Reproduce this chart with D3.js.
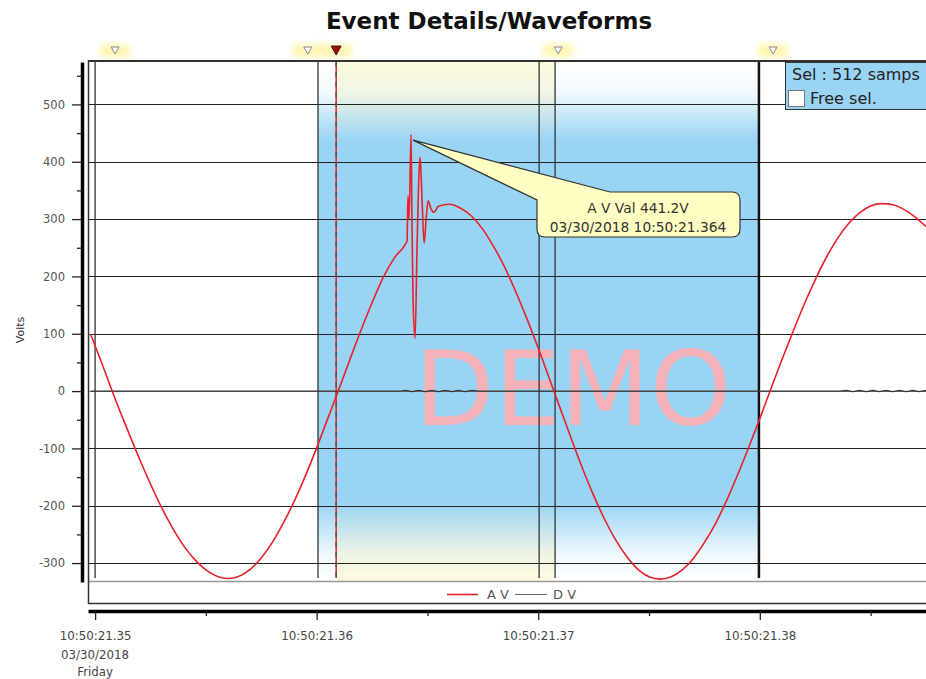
<!DOCTYPE html>
<html>
<head>
<meta charset="utf-8">
<script src="https://cdn.jsdelivr.net/npm/d3@7"></script>
<style>
  body { margin: 0; background: #fff; }
  svg { display: block; font-family: "DejaVu Sans", sans-serif; }
</style>
</head>
<body>
<div id="chart"></div>
<script>
// times are ms after 10:50:21.350
const avTimes = [-0.2, 0.3, 0.8, 1.0, 1.5, 2.0, 2.5, 3.0, 3.5, 4.0, 4.5, 5.0, 5.5, 6.0, 6.5, 7.0, 7.5, 8.0, 8.5, 9.0, 9.5, 10.0, 10.5, 11.0, 11.5, 12.0, 12.5, 13.0, 13.5, 14.0,
  14.08, 14.12, 14.17, 14.26, 14.30, 14.35, 14.44, 14.53, 14.62, 14.67, 14.76, 14.85, 14.94, 15.03, 15.16, 15.30, 15.48, 15.75,
  16.0, 16.5, 17.0, 17.5, 18.0, 18.5, 19.0, 19.5, 20.0, 20.5, 21.0, 21.5, 22.0, 22.5, 23.0, 23.5, 24.0, 24.5, 25.0, 25.5,
  26.0, 26.5, 27.0, 27.5, 28.0, 28.5, 29.0, 29.5, 30.0, 30.5, 31.0, 31.5, 32.0, 32.5, 33.0, 33.5, 34.0, 34.5, 35.0, 35.5,
  36.0, 36.5, 37.0, 37.5];
const avVolts = [99, 49, -3, -23, -71, -118, -162, -203, -239, -270, -294, -312, -323, -327, -323, -311, -291, -264, -230, -191, -147, -99, -48, 3, 55, 106, 154, 198, 232, 256,
  262, 340, 300, 448, 300, 160, 92, 250, 380, 408, 330, 258, 300, 332, 318, 312, 322, 325,
  326, 319, 305, 282, 251, 215, 172, 125, 75, 22, -31, -84, -135, -182, -224, -260, -289, -311, -324, -328,
  -324, -312, -292, -264, -231, -191, -146, -98, -48, 4, 55, 104, 151, 194, 233, 266, 292, 311, 323, 327,
  325, 317, 304, 287];

const dvTimes = [-0.2, 13.8, 14.0, 14.3, 14.6, 14.9, 15.2, 15.5, 15.8, 16.1, 16.4, 16.7, 17.0, 17.3, 33.6, 33.9, 34.2, 34.5, 34.8, 35.1, 35.4, 35.7, 36.0, 36.3, 36.6, 36.9, 37.2, 37.5];
const dvVolts = [0, 0, 1, -1, 1, -1, 1, -1, 1, -1, 1, -1, 1, 0, 0, 1, -1, 1, -1, 1, -1, 1, -1, 1, -1, 1, -1, 1];

const yMajorTicks = [-300, -200, -100, 0, 100, 200, 300, 400, 500];
const yMinorTicks = [-250, -150, -50, 50, 150, 250, 350, 450, 550];
const xMajorTicks = [0, 10, 20, 30];
const xMinorTicks = [5, 15, 25, 35];
const xTickLabels = ['10:50:21.35', '10:50:21.36', '10:50:21.37', '10:50:21.38'];
const xFirstLabelExtra = ['03/30/2018', 'Friday'];

const cursorLines = [0, 10.06, 20.04, 20.76];
const eventCursor = 10.88;
const selectionEnd = 29.96;
const markerTimes = [0.9, 9.6, 20.9, 30.6];
const tooltipLines = ['A V Val 441.2V', '03/30/2018 10:50:21.364'];
const peakPoint = [14.26, 441.2];

const width = 926, height = 679;
const plotTop = 62, plotBottom = 581, plotLeft = 88, plotRight = 926;

const svg = d3.select('#chart').append('svg')
  .attr('width', width)
  .attr('height', height);

const x = d3.scaleLinear().domain([-0.32, 37.5]).range([plotLeft, plotRight]);
const y = d3.scaleLinear().domain([-333, 574]).range([582, plotTop]);

const defs = svg.append('defs');
const grad = defs.append('linearGradient')
  .attr('id', 'blueFade')
  .attr('x1', 0).attr('y1', 0).attr('x2', 0).attr('y2', 1);
[[0, 0], [0.06, 0.15], [0.15, 1], [0.85, 1], [0.95, 0.15], [1, 0]].forEach(s => {
  grad.append('stop').attr('offset', s[0]).attr('stop-color', '#9ad4f5').attr('stop-opacity', s[1]);
});
defs.append('filter').attr('id', 'glow')
  .attr('x', '-50%').attr('y', '-50%').attr('width', '200%').attr('height', '200%')
  .append('feGaussianBlur').attr('stdDeviation', 3);
defs.append('clipPath').attr('id', 'plotClip')
  .append('rect')
  .attr('x', plotLeft).attr('y', plotTop)
  .attr('width', plotRight - plotLeft).attr('height', plotBottom - plotTop);

// title
svg.append('text')
  .attr('x', 489).attr('y', 29)
  .attr('text-anchor', 'middle')
  .style('font-size', '23px')
  .style('font-weight', 'bold')
  .attr('fill', '#111')
  .text('Event Details/Waveforms');

// marker glows and triangles above the plot
const markerG = svg.append('g');
markerTimes.concat([eventCursor]).forEach(t => {
  markerG.append('rect')
    .attr('x', x(t) - 15).attr('y', 44)
    .attr('width', 30).attr('height', 13)
    .attr('fill', '#fff6b0')
    .attr('filter', 'url(#glow)');
});
markerTimes.forEach(t => {
  const cx = x(t);
  markerG.append('path')
    .attr('d', `M${cx - 4},47 L${cx + 4},47 L${cx},54 Z`)
    .attr('fill', '#fff')
    .attr('stroke', '#888')
    .attr('stroke-width', 1);
});
{
  const cx = x(eventCursor);
  markerG.append('path')
    .attr('d', `M${cx - 5},46 L${cx + 5},46 L${cx},55 Z`)
    .attr('fill', '#b00000')
    .attr('stroke', '#222')
    .attr('stroke-width', 1);
}

// selection / event shading
const plotG = svg.append('g').attr('clip-path', 'url(#plotClip)');
plotG.append('rect')
  .attr('x', x(eventCursor)).attr('y', plotTop)
  .attr('width', x(20.76) - x(eventCursor)).attr('height', plotBottom - plotTop)
  .attr('fill', '#fffbe0');
plotG.append('rect')
  .attr('x', x(10.06)).attr('y', plotTop)
  .attr('width', x(selectionEnd) - x(10.06)).attr('height', plotBottom - plotTop)
  .attr('fill', 'url(#blueFade)');

// DEMO watermark
plotG.append('text')
  .attr('x', 573).attr('y', 425)
  .attr('text-anchor', 'middle')
  .style('font-size', '104px')
  .attr('fill', '#ffaeb2')
  .attr('fill-opacity', 0.9)
  .text('DEMO');

// horizontal grid
plotG.selectAll('.hgrid')
  .data(yMajorTicks)
  .join('line')
  .attr('x1', plotLeft).attr('x2', plotRight)
  .attr('y1', d => Math.round(y(d)) + 0.5).attr('y2', d => Math.round(y(d)) + 0.5)
  .attr('stroke', d => d === 0 ? '#8a8a8a' : '#222')
  .attr('stroke-width', 1.2);

// cursor lines
plotG.selectAll('.cursor')
  .data(cursorLines)
  .join('line')
  .attr('x1', d => x(d)).attr('x2', d => x(d))
  .attr('y1', plotTop).attr('y2', 578)
  .attr('stroke', '#333')
  .attr('stroke-width', 1.3);
plotG.append('line')
  .attr('x1', x(selectionEnd)).attr('x2', x(selectionEnd))
  .attr('y1', plotTop).attr('y2', 578)
  .attr('stroke', '#111')
  .attr('stroke-width', 2.5);
plotG.append('line')
  .attr('x1', x(eventCursor)).attr('x2', x(eventCursor))
  .attr('y1', plotTop).attr('y2', 578)
  .attr('stroke', '#f02020')
  .attr('stroke-width', 1.5);
plotG.append('line')
  .attr('x1', x(eventCursor)).attr('x2', x(eventCursor))
  .attr('y1', plotTop).attr('y2', 578)
  .attr('stroke', '#555')
  .attr('stroke-width', 1.5)
  .attr('stroke-dasharray', '5,5');

// series
const dvLine = d3.line()
  .x((d, i) => x(dvTimes[i]))
  .y(d => y(d));
plotG.append('path')
  .datum(dvVolts)
  .attr('d', dvLine)
  .attr('fill', 'none')
  .attr('stroke', '#333')
  .attr('stroke-width', 1.4);

const avLine = d3.line()
  .x((d, i) => x(avTimes[i]))
  .y(d => y(d))
  .curve(d3.curveMonotoneX);
plotG.append('path')
  .datum(avVolts)
  .attr('d', avLine)
  .attr('fill', 'none')
  .attr('stroke', '#e8202a')
  .attr('stroke-width', 1.6);

// plot frame
svg.append('line')
  .attr('x1', plotLeft).attr('x2', plotRight).attr('y1', 61).attr('y2', 61)
  .attr('stroke', '#333').attr('stroke-width', 2);
svg.append('line')
  .attr('x1', plotLeft).attr('x2', plotRight).attr('y1', 581.5).attr('y2', 581.5)
  .attr('stroke', '#999').attr('stroke-width', 1.5);
svg.append('line')
  .attr('x1', plotLeft).attr('x2', plotRight).attr('y1', 603.5).attr('y2', 603.5)
  .attr('stroke', '#333').attr('stroke-width', 1.5);
svg.append('line')
  .attr('x1', plotLeft + 0.5).attr('x2', plotLeft + 0.5).attr('y1', 60).attr('y2', 604)
  .attr('stroke', '#333').attr('stroke-width', 1.5);

// legend
const legend = svg.append('g').style('font-size', '13px').attr('fill', '#555');
legend.append('line').attr('x1', 447).attr('x2', 478).attr('y1', 594.5).attr('y2', 594.5)
  .attr('stroke', '#e8202a').attr('stroke-width', 1.6);
legend.append('text').attr('x', 487).attr('y', 599).text('A V');
legend.append('line').attr('x1', 515).attr('x2', 547).attr('y1', 594.5).attr('y2', 594.5)
  .attr('stroke', '#666').attr('stroke-width', 1);
legend.append('text').attr('x', 553).attr('y', 599).text('D V');

// y axis
const yAxisG = svg.append('g')
  .attr('transform', 'translate(82,0)')
  .call(d3.axisLeft(y).tickValues(yMajorTicks).tickSize(10).tickSizeOuter(0).tickPadding(7)
    .tickFormat(d => String(d)));
yAxisG.select('.domain').attr('stroke', '#000').attr('stroke-width', 3.5);
yAxisG.selectAll('.tick line').attr('stroke', '#222').attr('stroke-width', 1.3);
yAxisG.selectAll('.tick text')
  .style('font-size', '11.5px')
  .style('font-family', '"DejaVu Sans", sans-serif')
  .attr('fill', '#555');
svg.append('g')
  .attr('transform', 'translate(82,0)')
  .call(d3.axisLeft(y).tickValues(yMinorTicks).tickSize(5).tickFormat(''))
  .call(g => g.select('.domain').remove())
  .selectAll('.tick line').attr('stroke', '#222').attr('stroke-width', 1.3);

svg.append('text')
  .attr('transform', 'translate(24,330) rotate(-90)')
  .attr('text-anchor', 'middle')
  .style('font-size', '11px')
  .attr('fill', '#333')
  .text('Volts');

// x axis
const xAxisG = svg.append('g')
  .attr('transform', 'translate(0,611)')
  .call(d3.axisBottom(x).tickValues(xMajorTicks).tickSize(9).tickSizeOuter(0).tickPadding(12)
    .tickFormat((d, i) => xTickLabels[i]));
xAxisG.select('.domain').attr('stroke', '#000').attr('stroke-width', 3.5);
xAxisG.selectAll('.tick line').attr('stroke', '#222').attr('stroke-width', 1.3);
xAxisG.selectAll('.tick text')
  .style('font-size', '11.8px')
  .style('font-family', '"DejaVu Sans", sans-serif')
  .attr('fill', '#444');
svg.append('g')
  .attr('transform', 'translate(0,611)')
  .call(d3.axisBottom(x).tickValues(xMinorTicks).tickSize(5).tickFormat(''))
  .call(g => g.select('.domain').remove())
  .selectAll('.tick line').attr('stroke', '#222').attr('stroke-width', 1.3);

xFirstLabelExtra.forEach((t, i) => {
  svg.append('text')
    .attr('x', x(0)).attr('y', 659 + i * 17)
    .attr('text-anchor', 'middle')
    .style('font-size', '11.8px')
    .attr('fill', '#444')
    .text(t);
});

// tooltip callout
const tip = svg.append('g');
const tipX = x(peakPoint[0]) + 2, tipY = y(peakPoint[1]) + 2;
const bx0 = 537, bx1 = 740, by0 = 192, by1 = 237, r = 8;
tip.append('path')
  .attr('d', `M${tipX},${tipY} L610,${by0} H${bx1 - r} Q${bx1},${by0} ${bx1},${by0 + r} V${by1 - r} Q${bx1},${by1} ${bx1 - r},${by1} H${bx0 + r} Q${bx0},${by1} ${bx0},${by1 - r} V${by0 + 8} Z`)
  .attr('fill', '#ffffc4')
  .attr('stroke', '#333')
  .attr('stroke-width', 1.2);
tooltipLines.forEach((t, i) => {
  tip.append('text')
    .attr('x', 638).attr('y', 213 + i * 19)
    .attr('text-anchor', 'middle')
    .style('font-size', '13.8px')
    .attr('fill', '#333')
    .text(t);
});

// selection info box
const selG = svg.append('g');
selG.append('rect')
  .attr('x', 785.5).attr('y', 62.5).attr('width', 150).attr('height', 47)
  .attr('fill', '#9ad4f5')
  .attr('stroke', '#333');
selG.append('text')
  .attr('x', 792).attr('y', 80)
  .style('font-size', '16px')
  .attr('fill', '#222')
  .text('Sel : 512 samps');
selG.append('rect')
  .attr('x', 788.5).attr('y', 90.5).attr('width', 16).attr('height', 16)
  .attr('fill', '#fff')
  .attr('stroke', '#777');
selG.append('text')
  .attr('x', 810).attr('y', 104)
  .style('font-size', '16px')
  .attr('fill', '#222')
  .text('Free sel.');
</script>
</body>
</html>
